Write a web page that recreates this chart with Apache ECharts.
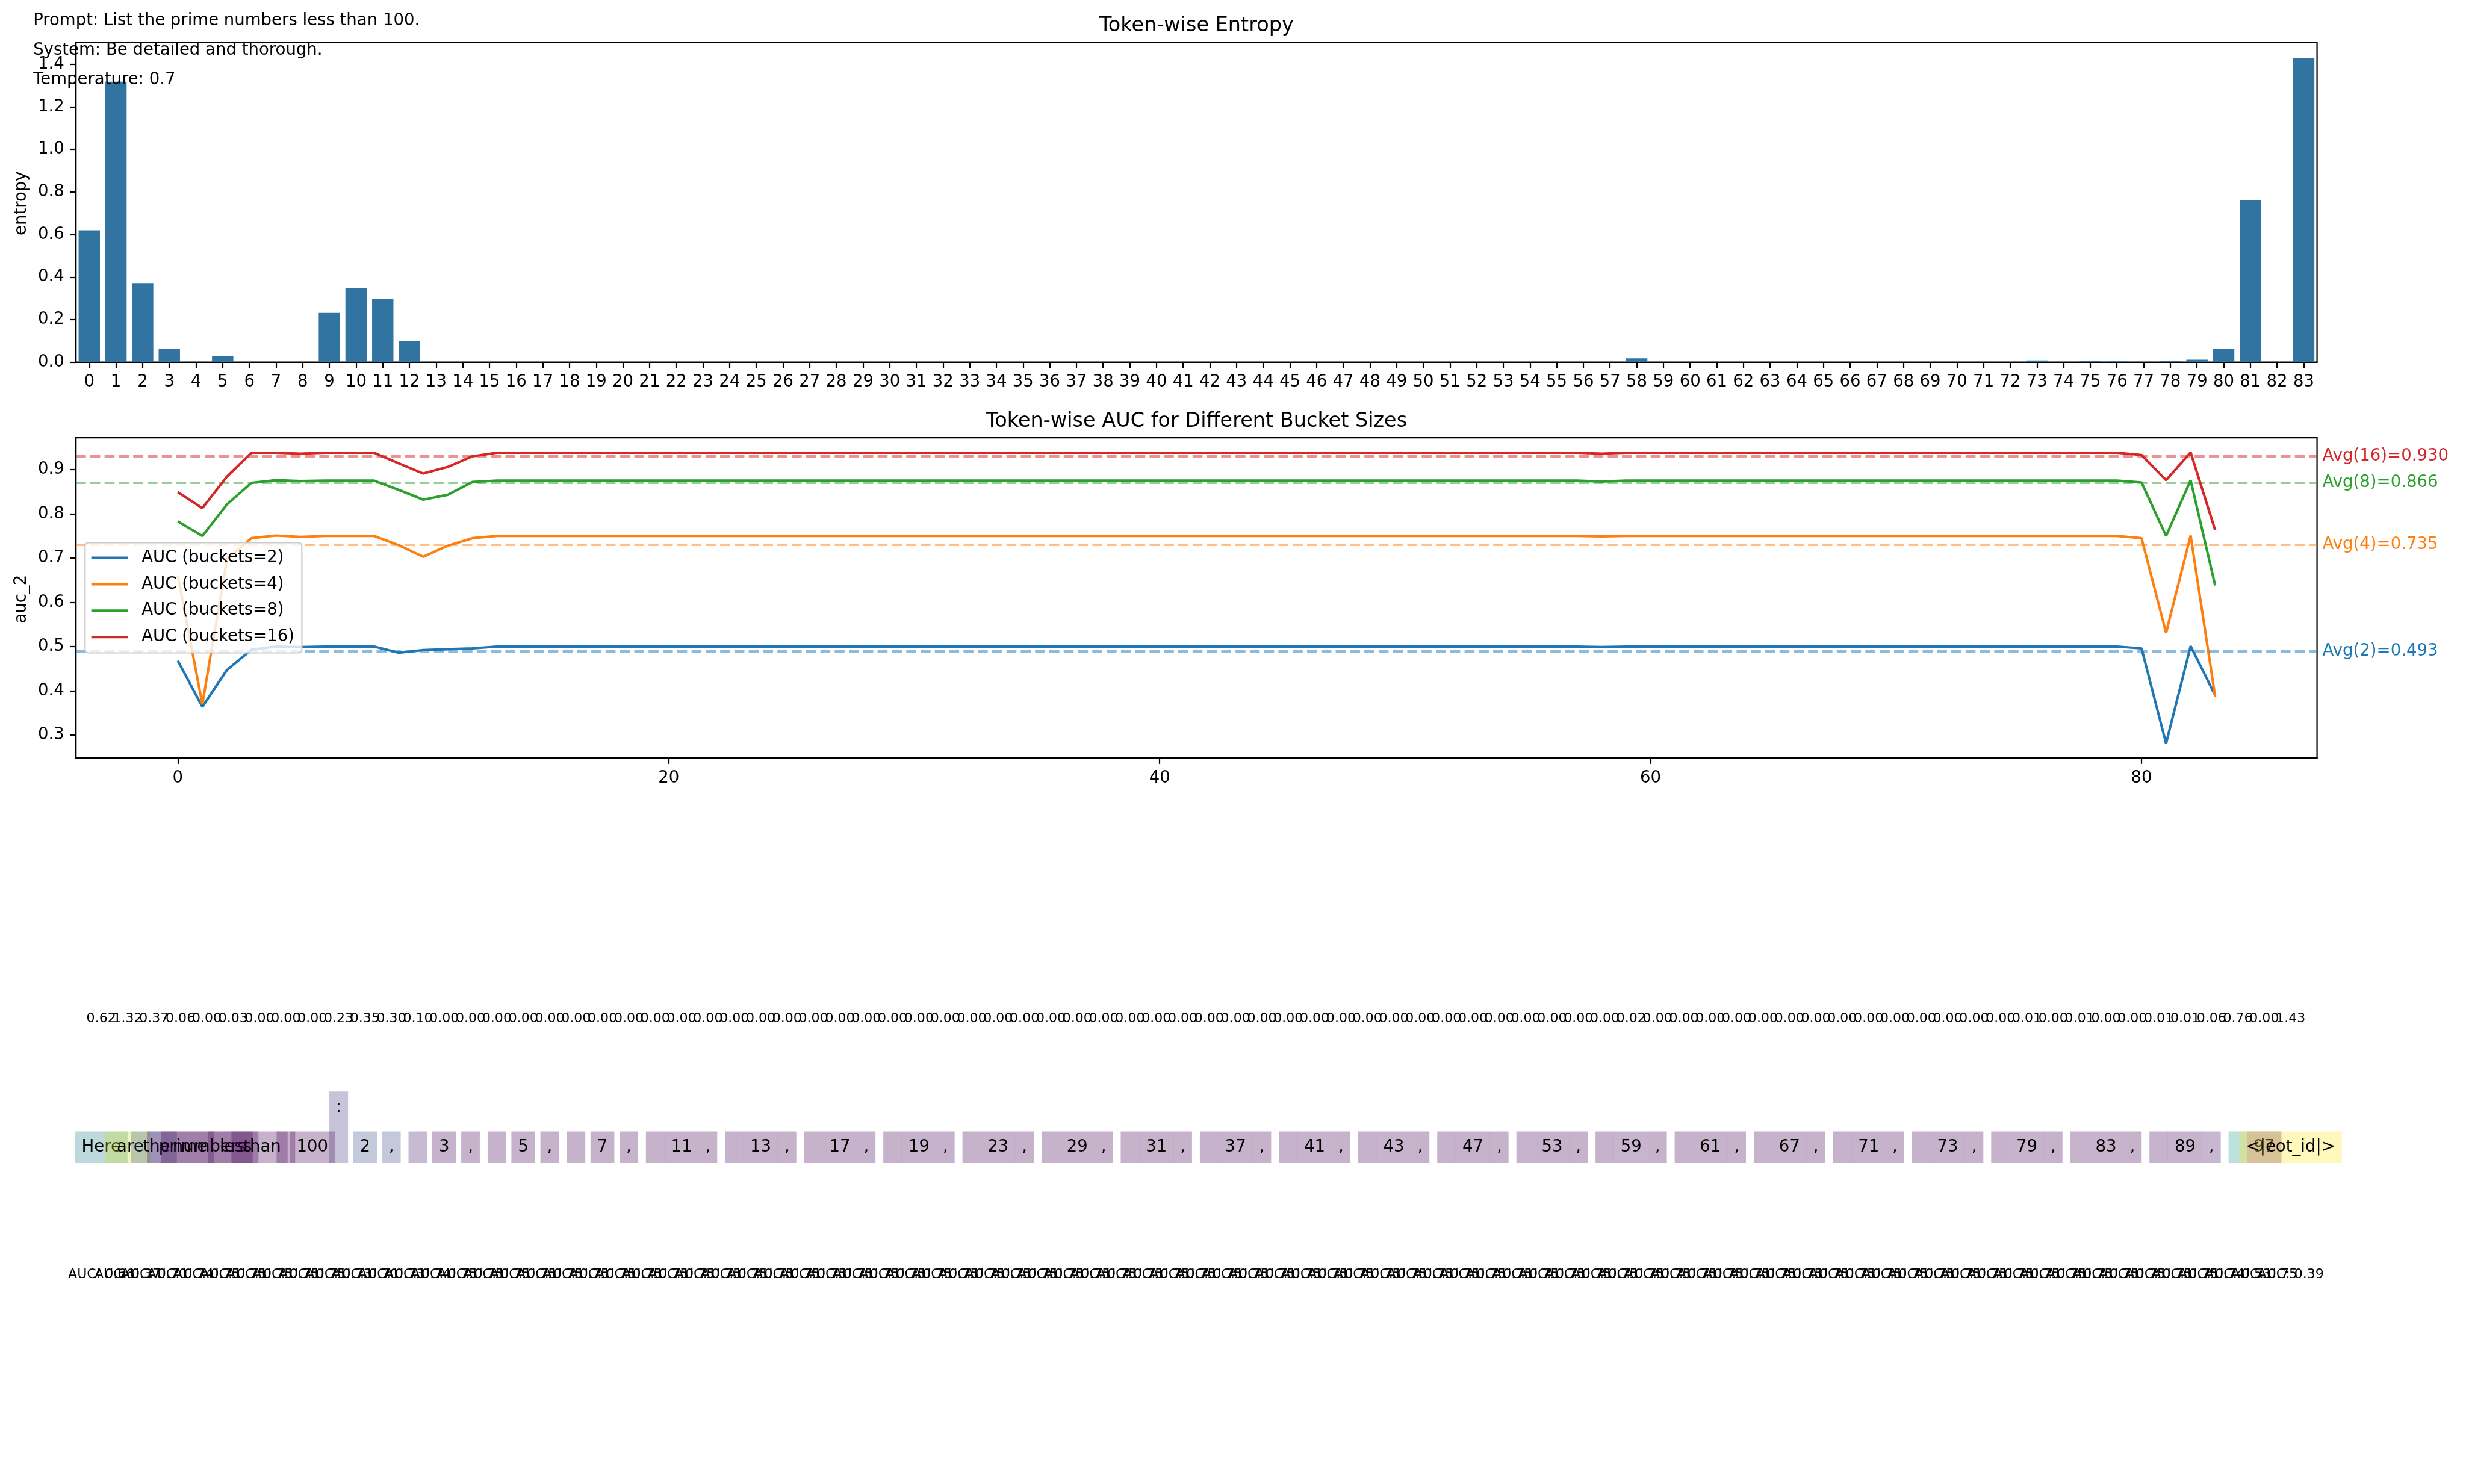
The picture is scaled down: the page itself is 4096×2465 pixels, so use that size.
<!DOCTYPE html>
<html>
<head>
<meta charset="utf-8">
<script src="https://cdn.jsdelivr.net/npm/echarts@6/dist/echarts.min.js"></script>
<style>
html,body{margin:0;padding:0;background:#fff;}
#chart{width:4096px;height:2465px;}
</style>
</head>
<body>
<div id="chart"></div>
<script>
// ---------------- DATA ----------------
const promptLines = [
  "Prompt: List the prime numbers less than 100.",
  "System: Be detailed and thorough.",
  "Temperature: 0.7"
];

const tokens = [
  "Here"," are"," the"," prime"," numbers"," less"," than"," ","100",":\n\n",
  "2",","," ","3",","," ","5",","," ","7",","," ","11",","," ","13",","," ",
  "17",","," ","19",","," ","23",","," ","29",","," ","31",","," ","37",","," ",
  "41",","," ","43",","," ","47",","," ","53",","," ","59",","," ","61",","," ",
  "67",","," ","71",","," ","73",","," ","79",","," ","83",","," ","89",","," ",
  "97","<|eot_id|>"
];

const entropy = [
  0.620, 1.318, 0.372, 0.062, 0.000, 0.029, 0.000, 0.000, 0.000, 0.232,
  0.348, 0.298, 0.098, 0.000, 0.000, 0.000, 0.000, 0.000, 0.000, 0.000,
  0.000, 0.000, 0.000, 0.000, 0.000, 0.000, 0.000, 0.000, 0.000, 0.000,
  0.000, 0.000, 0.000, 0.000, 0.000, 0.000, 0.000, 0.000, 0.000, 0.000,
  0.000, 0.000, 0.000, 0.000, 0.000, 0.000, 0.002, 0.000, 0.000, 0.002,
  0.000, 0.000, 0.000, 0.000, 0.002, 0.000, 0.000, 0.000, 0.018, 0.000,
  0.000, 0.000, 0.000, 0.000, 0.000, 0.000, 0.000, 0.000, 0.000, 0.000,
  0.000, 0.000, 0.000, 0.008, 0.000, 0.007, 0.003, 0.000, 0.006, 0.012,
  0.064, 0.763, 0.000, 1.430
];

const auc2 = [
  0.468, 0.364, 0.447, 0.493, 0.500, 0.499, 0.500, 0.500, 0.500, 0.486,
  0.492, 0.494, 0.496, 0.500, 0.500, 0.500, 0.500, 0.500, 0.500, 0.500,
  0.500, 0.500, 0.500, 0.500, 0.500, 0.500, 0.500, 0.500, 0.500, 0.500,
  0.500, 0.500, 0.500, 0.500, 0.500, 0.500, 0.500, 0.500, 0.500, 0.500,
  0.500, 0.500, 0.500, 0.500, 0.500, 0.500, 0.500, 0.500, 0.500, 0.500,
  0.500, 0.500, 0.500, 0.500, 0.500, 0.500, 0.500, 0.500, 0.499, 0.500,
  0.500, 0.500, 0.500, 0.500, 0.500, 0.500, 0.500, 0.500, 0.500, 0.500,
  0.500, 0.500, 0.500, 0.500, 0.500, 0.500, 0.500, 0.500, 0.500, 0.500,
  0.496, 0.281, 0.501, 0.390
];

const auc4 = [
  0.660, 0.370, 0.697, 0.745, 0.751, 0.748, 0.750, 0.750, 0.750, 0.729,
  0.703, 0.728, 0.745, 0.750, 0.750, 0.750, 0.750, 0.750, 0.750, 0.750,
  0.750, 0.750, 0.750, 0.750, 0.750, 0.750, 0.750, 0.750, 0.750, 0.750,
  0.750, 0.750, 0.750, 0.750, 0.750, 0.750, 0.750, 0.750, 0.750, 0.750,
  0.750, 0.750, 0.750, 0.750, 0.750, 0.750, 0.750, 0.750, 0.750, 0.750,
  0.750, 0.750, 0.750, 0.750, 0.750, 0.750, 0.750, 0.750, 0.749, 0.750,
  0.750, 0.750, 0.750, 0.750, 0.750, 0.750, 0.750, 0.750, 0.750, 0.750,
  0.750, 0.750, 0.750, 0.750, 0.750, 0.750, 0.750, 0.750, 0.750, 0.750,
  0.745, 0.531, 0.751, 0.387
];

const auc8 = [
  0.783, 0.750, 0.821, 0.870, 0.876, 0.874, 0.875, 0.875, 0.875, 0.854,
  0.832, 0.843, 0.872, 0.875, 0.875, 0.875, 0.875, 0.875, 0.875, 0.875,
  0.875, 0.875, 0.875, 0.875, 0.875, 0.875, 0.875, 0.875, 0.875, 0.875,
  0.875, 0.875, 0.875, 0.875, 0.875, 0.875, 0.875, 0.875, 0.875, 0.875,
  0.875, 0.875, 0.875, 0.875, 0.875, 0.875, 0.875, 0.875, 0.875, 0.875,
  0.875, 0.875, 0.875, 0.875, 0.875, 0.875, 0.875, 0.875, 0.873, 0.875,
  0.875, 0.875, 0.875, 0.875, 0.875, 0.875, 0.875, 0.875, 0.875, 0.875,
  0.875, 0.875, 0.875, 0.875, 0.875, 0.875, 0.875, 0.875, 0.875, 0.875,
  0.871, 0.750, 0.876, 0.638
];

const auc16 = [
  0.849, 0.813, 0.884, 0.938, 0.938, 0.936, 0.938, 0.938, 0.938, 0.914,
  0.891, 0.906, 0.930, 0.938, 0.938, 0.938, 0.938, 0.938, 0.938, 0.938,
  0.938, 0.938, 0.938, 0.938, 0.938, 0.938, 0.938, 0.938, 0.938, 0.938,
  0.938, 0.938, 0.938, 0.938, 0.938, 0.938, 0.938, 0.938, 0.938, 0.938,
  0.938, 0.938, 0.938, 0.938, 0.938, 0.938, 0.938, 0.938, 0.938, 0.938,
  0.938, 0.938, 0.938, 0.938, 0.938, 0.938, 0.938, 0.938, 0.936, 0.938,
  0.938, 0.938, 0.938, 0.938, 0.938, 0.938, 0.938, 0.938, 0.938, 0.938,
  0.938, 0.938, 0.938, 0.938, 0.938, 0.938, 0.938, 0.938, 0.938, 0.938,
  0.933, 0.876, 0.939, 0.763
];

const bucketSizes = [2, 4, 8, 16];
const aucAverages = [0.493, 0.735, 0.866, 0.930];

const entropyYTicks = [0.0, 0.2, 0.4, 0.6, 0.8, 1.0, 1.2, 1.4];
const aucYTicks = [0.3, 0.4, 0.5, 0.6, 0.7, 0.8, 0.9];
const aucXTicks = [0, 20, 40, 60, 80];
const tokenIndexLabels = entropy.map((_, i) => String(i));

// ---------------- LAYOUT / STYLE ----------------
const S = 4096 / 5943;           // reference px -> window px
const R = v => v * S;
const FONT = '"DejaVu Sans", sans-serif';
const FS10 = R(40), FS12 = R(48.6), FS8 = R(32);
const BLACK = '#000000';
const seriesColors = ['#1f77b4', '#ff7f0e', '#2ca02c', '#d62728'];
const seriesColorsHalf = ['rgba(31,119,180,0.5)', 'rgba(255,127,14,0.5)', 'rgba(44,160,44,0.5)', 'rgba(214,39,40,0.5)'];
const barColor = '#3274a1';
const LW = R(6);
const SPINE = R(3.2);
const TICKLEN = R(14);

const W = 4096, H = 2465;
const axLeft = R(183), axRight = W - R(5584);
const ent = { top: R(103), bottom: H - R(873) };
const aucG = { top: R(1055), bottom: H - R(1827) };

// token strip layout (slot centres along the page)
const slot0 = R(244), slotStep = R(63.57);
const tokXMin = -slot0 / slotStep, tokXMax = (W - slot0) / slotStep;
const PAD = R(16), BOX_H = R(75), BOX_BOTTOM = R(2802), LINE_STEP = 1.2 * FS10;
const ENT_ROW_Y = R(2456), AUC_ROW_Y = R(3072);

// viridis colormap stops
const viridisStops = ['#440154','#48186a','#472d7b','#424086','#3b528b','#33638d','#2c728e','#26828e',
  '#21918c','#1fa088','#28ae80','#3fbc73','#5ec962','#84d44b','#addc30','#d8e219','#fde725'];
function hex2rgb(h){ return [parseInt(h.slice(1,3),16), parseInt(h.slice(3,5),16), parseInt(h.slice(5,7),16)]; }
function viridis(t){
  t = Math.max(0, Math.min(1, t));
  const p = t * (viridisStops.length - 1);
  const k = Math.min(Math.floor(p), viridisStops.length - 2);
  const f = p - k;
  const a = hex2rgb(viridisStops[k]), b = hex2rgb(viridisStops[k+1]);
  return a.map((v, j) => Math.round(v + (b[j] - v) * f));
}
const entMax = Math.max(...entropy);
const entMin = Math.min(...entropy);

const mctx = document.createElement('canvas').getContext('2d');
function textWidth(t, size){ mctx.font = size + 'px ' + FONT; return mctx.measureText(t).width; }

// axis ranges like matplotlib autoscale
const entYMax = entMax * 1.05;
const nIdx = auc2.length - 1;
const aucXMin = -0.05 * nIdx, aucXMax = nIdx * 1.05;
const allAuc = [].concat(auc2, auc4, auc8, auc16);
const aLo = Math.min(...allAuc), aHi = Math.max(...allAuc);
const aucYMin = aLo - 0.05 * (aHi - aLo), aucYMax = aHi + 0.05 * (aHi - aLo);

const aucSeriesData = [auc2, auc4, auc8, auc16];

const axisCommon = {
  axisLine: { show: true, onZero: false, lineStyle: { color: BLACK, width: SPINE } },
  axisTick: { show: true, length: TICKLEN, lineStyle: { color: BLACK, width: SPINE } },
  splitLine: { show: false }
};

const lineSeries = aucSeriesData.map((arr, k) => ({
  type: 'line',
  name: 'AUC (buckets=' + bucketSizes[k] + ')',
  xAxisIndex: 1, yAxisIndex: 1,
  data: arr.map((v, i) => [i, v]),
  symbol: 'none', showSymbol: false,
  lineStyle: { color: seriesColors[k], width: LW },
  itemStyle: { color: seriesColors[k] },
  z: 3 + k,
  markLine: {
    silent: true,
    symbol: ['none', 'none'],
    animation: false,
    data: [{ yAxis: aucAverages[k] }],
    lineStyle: { color: seriesColorsHalf[k], width: LW, type: [R(24), R(10.5)] },
    label: {
      show: true, position: 'end', distance: R(13),
      formatter: 'Avg(' + bucketSizes[k] + ')=' + aucAverages[k].toFixed(3),
      color: seriesColors[k], fontSize: FS10, fontFamily: FONT, opacity: 1
    },
    emphasis: { disabled: true }
  }
}));

const option = {
  animation: false,
  backgroundColor: '#ffffff',
  textStyle: { fontFamily: FONT },
  grid: [
    { left: axLeft, right: axRight, top: ent.top, bottom: ent.bottom, show: true, borderColor: BLACK, borderWidth: SPINE, containLabel: false },
    { left: axLeft, right: axRight, top: aucG.top, bottom: aucG.bottom, show: true, borderColor: BLACK, borderWidth: SPINE, containLabel: false },
    { left: 0, right: 0, top: 0, bottom: 0, show: false }
  ],
  xAxis: [
    Object.assign({}, axisCommon, {
      type: 'category', gridIndex: 0, data: tokenIndexLabels, boundaryGap: true,
      axisTick: { show: true, alignWithLabel: true, interval: 0, length: TICKLEN, lineStyle: { color: BLACK, width: SPINE } },
      axisLabel: { interval: 0, color: BLACK, fontSize: FS10, fontFamily: FONT, margin: R(28) }
    }),
    Object.assign({}, axisCommon, {
      type: 'value', gridIndex: 1, min: aucXMin, max: aucXMax,
      axisTick: { show: true, length: TICKLEN, lineStyle: { color: BLACK, width: SPINE }, customValues: aucXTicks },
      axisLabel: { color: BLACK, fontSize: FS10, fontFamily: FONT, margin: R(28), customValues: aucXTicks, formatter: v => String(v) }
    }),
    { type: 'value', gridIndex: 2, min: tokXMin, max: tokXMax, show: false }
  ],
  yAxis: [
    Object.assign({}, axisCommon, {
      type: 'value', gridIndex: 0, min: 0, max: entYMax,
      axisTick: { show: true, length: TICKLEN, lineStyle: { color: BLACK, width: SPINE }, customValues: entropyYTicks },
      axisLabel: { color: BLACK, fontSize: FS10, fontFamily: FONT, margin: R(28), customValues: entropyYTicks, formatter: v => v.toFixed(1) }
    }),
    Object.assign({}, axisCommon, {
      type: 'value', gridIndex: 1, min: aucYMin, max: aucYMax,
      axisTick: { show: true, length: TICKLEN, lineStyle: { color: BLACK, width: SPINE }, customValues: aucYTicks },
      axisLabel: { color: BLACK, fontSize: FS10, fontFamily: FONT, margin: R(28), customValues: aucYTicks, formatter: v => v.toFixed(1) }
    }),
    { type: 'value', gridIndex: 2, min: 0, max: 1, show: false }
  ],
  legend: {
    data: lineSeries.map(s => s.name),
    orient: 'vertical',
    left: R(205), top: R(1308),
    padding: [R(16), R(18), R(18), R(15)],
    icon: 'rect',
    itemWidth: R(88), itemHeight: LW,
    itemGap: R(23),
    backgroundColor: 'rgba(255,255,255,0.8)',
    borderColor: '#cccccc', borderWidth: SPINE, borderRadius: R(8),
    textStyle: { color: BLACK, fontSize: FS10, fontFamily: FONT, padding: [0, 0, 0, R(26)], lineHeight: R(40), height: R(40) },
    selectedMode: false,
    z: 20
  },
  series: [
    {
      type: 'bar', xAxisIndex: 0, yAxisIndex: 0,
      data: entropy,
      barCategoryGap: '20%',
      itemStyle: { color: barColor },
      z: 2
    }
  ].concat(lineSeries).concat([
    {
      type: 'custom', xAxisIndex: 2, yAxisIndex: 2,
      clip: false, silent: true, z: 5,
      data: tokens.map((t, i) => [i, entropy[i], auc4[i]]),
      renderItem: function (params, api) {
        const i = api.value(0);
        const cx = api.coord([i, 0])[0];
        const tok = tokens[i];
        const lines = tok.split('\n');
        const w = Math.max.apply(null, lines.map(l => textWidth(l, FS10))) + 2 * PAD;
        const h = BOX_H + (lines.length - 1) * LINE_STEP;
        const top = BOX_BOTTOM - h;
        const c = viridis((entropy[i] - entMin) / (entMax - entMin));
        return {
          type: 'group',
          children: [
            { type: 'rect', z2: i * 3, shape: { x: cx - w / 2, y: top, width: w, height: h },
              style: { fill: 'rgba(' + c[0] + ',' + c[1] + ',' + c[2] + ',0.3)' } },
            { type: 'text', z2: i * 3 + 1, x: cx, y: top + BOX_H / 2 + R(1),
              style: { text: lines[0], fill: BLACK, fontSize: FS10, fontFamily: FONT, align: 'center', verticalAlign: 'middle' } },
            { type: 'text', z2: 500, x: cx, y: ENT_ROW_Y,
              style: { text: entropy[i].toFixed(2), fill: BLACK, fontSize: FS8, fontFamily: FONT, align: 'center', verticalAlign: 'middle' } },
            { type: 'text', z2: 500, x: cx, y: AUC_ROW_Y,
              style: { text: 'AUC: ' + auc4[i].toFixed(2), fill: BLACK, fontSize: FS8, fontFamily: FONT, align: 'center', verticalAlign: 'middle' } }
          ]
        };
      }
    }
  ]),
  graphic: [
    { type: 'text', z: 100, x: (axLeft + (W - axRight)) / 2, y: R(63),
      style: { text: 'Token-wise Entropy', fill: BLACK, fontSize: FS12, fontFamily: FONT, align: 'center', verticalAlign: 'middle' } },
    { type: 'text', z: 100, x: (axLeft + (W - axRight)) / 2, y: R(1016),
      style: { text: 'Token-wise AUC for Different Bucket Sizes', fill: BLACK, fontSize: FS12, fontFamily: FONT, align: 'center', verticalAlign: 'middle' } },
    { type: 'text', z: 100, x: R(52), y: R(490), rotation: Math.PI / 2,
      style: { text: 'entropy', fill: BLACK, fontSize: FS10, fontFamily: FONT, align: 'center', verticalAlign: 'middle' } },
    { type: 'text', z: 100, x: R(52), y: R(1444), rotation: Math.PI / 2,
      style: { text: 'auc_2', fill: BLACK, fontSize: FS10, fontFamily: FONT, align: 'center', verticalAlign: 'middle' } }
  ].concat(promptLines.map((t, k) => ({
    type: 'text', z: 100, x: R(80), y: R([50, 121.5, 193][k]),
    style: { text: t, fill: BLACK, fontSize: FS10, fontFamily: FONT, align: 'left', verticalAlign: 'middle' }
  })))
};

const chart = echarts.init(document.getElementById('chart'), null, { renderer: 'canvas', width: 4096, height: 2465 });
chart.setOption(option);
</script>
</body>
</html>
